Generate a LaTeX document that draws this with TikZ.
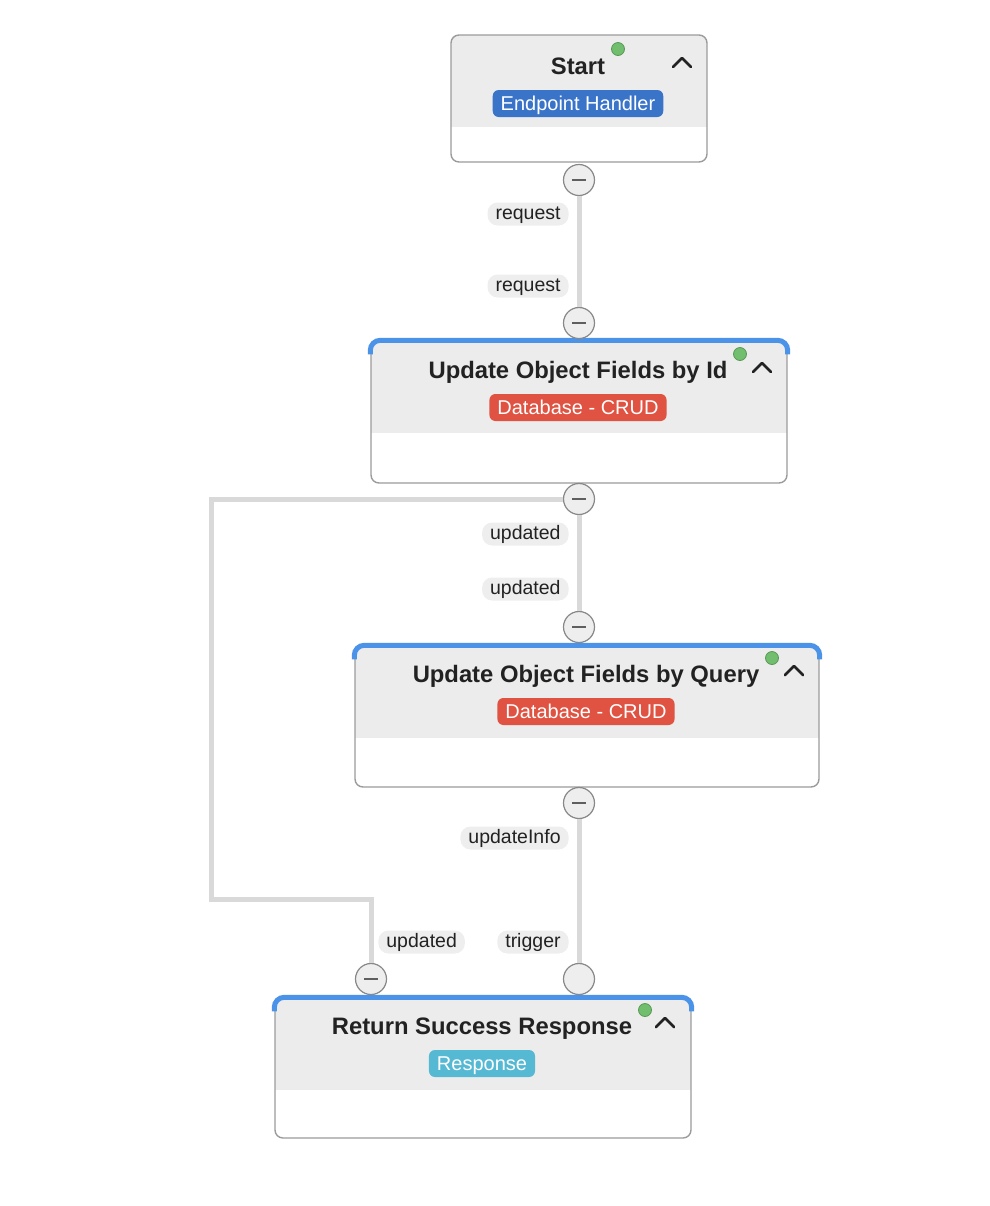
\documentclass[tikz,border=0pt]{standalone}
\usepackage{fontspec}
\setmainfont{Liberation Sans}
\usepackage{tikz}
\usepackage{xcolor}
\definecolor{ColEdge}{RGB}{217,217,217}
\definecolor{ColHead}{RGB}{236,236,236}
\definecolor{ColFrame}{RGB}{155,155,155}
\definecolor{ColBar}{RGB}{74,147,232}
\definecolor{ColHandler}{RGB}{58,116,201}
\definecolor{ColCrud}{RGB}{224,82,65}
\definecolor{ColResp}{RGB}{86,185,211}
\definecolor{ColDot}{RGB}{112,190,110}
\definecolor{ColPill}{RGB}{238,238,238}
\definecolor{ColPort}{RGB}{136,136,136}
\definecolor{ColText}{RGB}{34,34,34}
\tikzstyle{BoxGraph}=[rectangle,draw=ColFrame,line width=.7pt,rounded corners=4pt,fill=white,
inner sep=0pt,path picture={\fill[ColHead,sharp corners](path picture bounding box.north west)rectangle
([yshift=-46pt]path picture bounding box.north east);}]
\tikzstyle{BarGraph}=[draw=ColBar,line width=2.5pt,rounded corners=5pt]
\tikzstyle{TitleGraph}=[anchor=base,inner sep=0pt,text=ColText,font=\fontsize{11.9}{14}\selectfont\bfseries]
\tikzstyle{TagGraph}=[rounded corners=3pt,inner xsep=4pt,inner ysep=0pt,minimum height=13.5pt,
text height=8.6pt,text depth=2.1pt,text=white,font=\fontsize{10}{12}\selectfont]
\tikzstyle{DotGraph}=[circle,fill=ColDot,draw=ColDot!80!black,line width=.4pt,inner sep=0pt,minimum size=6.5pt]
\tikzstyle{FoldGraph}=[draw=ColText,line width=1.4pt,line cap=round,line join=round]
\tikzstyle{PortGraph}=[circle,fill=ColPill,draw=ColPort,line width=.6pt,inner sep=0pt,minimum size=15.5pt]
\tikzstyle{MinusGraph}=[PortGraph,path picture={\draw[ColPort!70!black,line width=.8pt]
([xshift=-3.5pt]path picture bounding box.center)--([xshift=3.5pt]path picture bounding box.center);}]
\tikzstyle{EdgeGraph}=[ColEdge,line width=2.5pt]
\tikzstyle{PillGraph}=[fill=ColPill,rounded corners=5pt,inner xsep=4pt,inner ysep=0pt,minimum height=11.5pt,
text height=7.3pt,text depth=1.8pt,text=ColText,font=\fontsize{9.75}{11}\selectfont]

\begin{document}
\begin{tikzpicture}[x=.5pt,y=-.5pt]
        \useasboundingbox(0,0)rectangle(990,1206);
        % boxes
        \node[BoxGraph,minimum width=128pt,minimum height=63.5pt](start)at(579,98.5){};
        \node[BoxGraph,minimum width=208pt,minimum height=71pt](byid)at(579,412){};
        \node[BoxGraph,minimum width=232pt,minimum height=70.5pt](byquery)at(587,716.5){};
        \node[BoxGraph,minimum width=208pt,minimum height=70pt](success)at(483,1068){};
        \draw[BarGraph]([yshift=-7pt]byid.north west)--(byid.north west)--(byid.north east)--([yshift=-7pt]byid.north east);
        \draw[BarGraph]([yshift=-7pt]byquery.north west)--(byquery.north west)--(byquery.north east)--([yshift=-7pt]byquery.north east);
        \draw[BarGraph]([yshift=-7pt]success.north west)--(success.north west)--(success.north east)--([yshift=-7pt]success.north east);
        % titles and tags
        \node[TitleGraph](tstart)at(578,74.5){Start};
        \node[TitleGraph](tbyid)at(578,378.5){Update Object Fields by Id};
        \node[TitleGraph](tbyquery)at(586,682.5){Update Object Fields by Query};
        \node[TitleGraph](tsuccess)at(482,1034.5){Return Success Response};
        \node[TagGraph,fill=ColHandler](gstart)at(578,103.5){Endpoint Handler};
        \node[TagGraph,fill=ColCrud](gbyid)at(578,407.5){Database - CRUD};
        \node[TagGraph,fill=ColCrud](gbyquery)at(586,711.5){Database - CRUD};
        \node[TagGraph,fill=ColResp](gsuccess)at(482,1063.5){Response};
        \node[DotGraph](dstart)at(618,49){};
        \node[DotGraph](dbyid)at(740,354){};
        \node[DotGraph](dbyquery)at(772,658){};
        \node[DotGraph](dsuccess)at(645,1010){};
        \draw[FoldGraph](673,67)--(682,58)--(691,67);
        \draw[FoldGraph](753,372)--(762,363)--(771,372);
        \draw[FoldGraph](785,675)--(794,666)--(803,675);
        \draw[FoldGraph](656,1027)--(665,1018)--(674,1027);
        % ports
        \node[MinusGraph](pa)at(579,180){};
        \node[MinusGraph](pb)at(579,323){};
        \node[MinusGraph](pc)at(579,499){};
        \node[MinusGraph](pd)at(579,627){};
        \node[MinusGraph](pe)at(579,803){};
        \node[MinusGraph](pf)at(371,979){};
        \node[PortGraph](pg)at(579,979){};
        \coordinate(loop)at(211,899);
        % edges
        \draw[EdgeGraph](pa)--(pb);
        \draw[EdgeGraph](pc)--(pd);
        \draw[EdgeGraph](pe)--(pg);
        \draw[EdgeGraph](pc)-|(loop)-|(pf);
        % labels
        \node[PillGraph,anchor=east](la)at(569,214){request};
        \node[PillGraph,anchor=east](lb)at(569,286){request};
        \node[PillGraph,anchor=east](lc)at(569,534){updated};
        \node[PillGraph,anchor=east](ld)at(569,589){updated};
        \node[PillGraph,anchor=east](le)at(569,838){updateInfo};
        \node[PillGraph,anchor=east](lf)at(569,942){trigger};
        \node[PillGraph,anchor=west](lg)at(378,942){updated};
    \end{tikzpicture}
\end{document}
